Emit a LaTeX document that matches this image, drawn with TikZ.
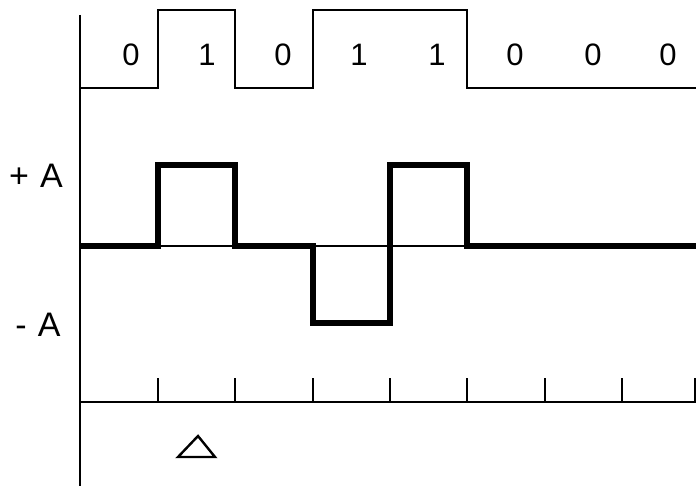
\documentclass[tikz,border=0pt]{standalone}
\usepackage{fontspec}
\setmainfont{Liberation Sans}
\begin{document}
\begin{tikzpicture}[x=1pt,y=-1pt,
  thinline/.style={line width=2.6pt},
  thickline/.style={line width=6.5pt},
  tickline/.style={line width=2.4pt},
  bitlabel/.style={font=\fontsize{31}{33}\selectfont, inner sep=0pt},
  levlabel/.style={font=\fontsize{34}{36}\selectfont, inner sep=0pt}]
\useasboundingbox (0,0) rectangle (696,486);
% axis
\coordinate (axtop) at (80,15);
\coordinate (axbot) at (80,486);
\draw[thinline] (axtop) -- (axbot);
% top binary waveform
\draw[thinline] (80,88) -- (158,88) -- (158,10) -- (235,10) -- (235,88) -- (313,88) -- (313,10) -- (467,10) -- (467,88) -- (696,88);
% bit labels
\node[bitlabel] (b1) at (131,55) {0};
\node[bitlabel] (b2) at (207,55) {1};
\node[bitlabel] (b3) at (283,55) {0};
\node[bitlabel] (b4) at (359,55) {1};
\node[bitlabel] (b5) at (437,55) {1};
\node[bitlabel] (b6) at (515,55) {0};
\node[bitlabel] (b7) at (593,55) {0};
\node[bitlabel] (b8) at (668,55) {0};
% level labels
\node[levlabel] (pa) at (36,176) {+\,\,A};
\node[levlabel] (ma) at (38,325) {-\,\,A};
% baseline
\draw[line width=2.2pt] (80,246) -- (696,246);
% AMI waveform
\draw[thickline, line join=miter] (80,246) -- (158,246) -- (158,165) -- (235,165) -- (235,246) -- (313,246) -- (313,323) -- (390,323) -- (390,165) -- (467,165) -- (467,246) -- (696,246);
% time axis
\draw[thinline] (80,402) -- (696,402);
\foreach \x in {158,235,313,390,467,545,622,695}
  \draw[tickline] (\x,402) -- (\x,378);
% triangle
\draw[line width=2.4pt, line join=miter] (198,436) -- (215,457) -- (178,457) -- cycle;
\end{tikzpicture}
\end{document}
